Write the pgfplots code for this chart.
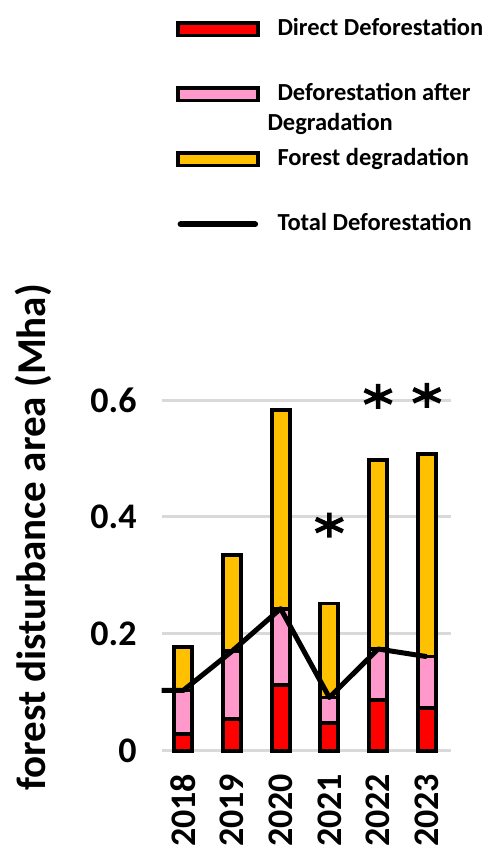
\documentclass[border=0pt]{standalone}
\usepackage{fontspec}
\setmainfont{Carlito}
\usepackage{pgfplots}
\usepackage{pgfplotstable}
\pgfplotsset{compat=1.18}

\definecolor{directred}{HTML}{FF0000}
\definecolor{afterpink}{HTML}{FF99CC}
\definecolor{degradgold}{HTML}{FFC000}
\definecolor{gridgray}{HTML}{D9D9D9}

% Forest disturbance components (Mha) per year, stacked from the bottom
\pgfplotstableread{
x  year direct afterdeg degrad
0  2018 0.028  0.075    0.075
1  2019 0.054  0.116    0.165
2  2020 0.112  0.131    0.340
3  2021 0.047  0.044    0.161
4  2022 0.087  0.087    0.323
5  2023 0.073  0.088    0.347
}\components

% Total deforestation (direct + after degradation); first point at the axis edge
\pgfplotstableread{
x     total
-0.44 0.103
0     0.103
1     0.170
2     0.243
3     0.091
4     0.174
5     0.161
}\totaldef

% Years marked as significant
\pgfplotstableread{
x y
3 0.386
4 0.606
5 0.608
}\signif

\pgfplotsset{
  common/.style={
    width=289pt, height=350.7pt, scale only axis,
    at={(0pt,0pt)}, anchor=south west,
    xmin=-0.44, xmax=5.49, ymin=0, ymax=0.6,
    clip=false,
  },
  barlegend/.style={
    legend image code/.code={\draw[##1] (0pt,-6.25pt) rectangle (79.5pt,6.25pt);}
  },
  linelegend/.style={
    legend image code/.code={\draw[##1] (2.5pt,0pt) -- (77pt,0pt);}
  },
}

\begin{document}
\begin{tikzpicture}
\useasboundingbox (-161.7pt,-100.3pt) rectangle (323.3pt,750.7pt);

\begin{axis}[
  common,
  ybar stacked,
  bar width=18pt,
  axis line style={draw=none},
  tick style={draw=none},
  ymajorgrids,
  grid style={gridgray, line width=3pt},
  xtick={0,1,2,3,4,5},
  xticklabels={2018,2019,2020,2021,2022,2023},
  ytick={0,0.2,0.4,0.6},
  yticklabels={0,0.2,0.4,0.6},
  tick label style={font=\fontsize{36pt}{40pt}\selectfont\bfseries},
  xticklabel style={rotate=90, anchor=east, inner xsep=23pt, inner ysep=0pt},
  yticklabel style={anchor=east, inner xsep=25pt, inner ysep=0pt},
  ylabel={forest disturbance area (Mha)},
  every axis y label/.style={
    at={(axis description cs:-0.4436,0.608)}, rotate=90, anchor=center,
    font=\fontsize{41pt}{45pt}\selectfont\bfseries},
  legend cell align=left,
  legend style={
    at={(0.0495,2.092)}, anchor=north west,
    draw=none, fill=none, inner sep=0pt,
    row sep=41pt, column sep=18pt,
    font=\fontsize{24.5pt}{29pt}\selectfont\bfseries,
    nodes={inner sep=0pt, text height=18pt, text depth=6pt},
  },
]
\addplot[barlegend, fill=directred, draw=black, line width=3.8pt]
  table[x=x, y=direct] {\components};
\addlegendentry{Direct Deforestation}
\addplot[barlegend, fill=afterpink, draw=black, line width=3.8pt]
  table[x=x, y=afterdeg] {\components};
\addlegendentry{\rlap{\hspace{-10pt}\raisebox{-30pt}[0pt][0pt]{Degradation}}Deforestation after}
\addplot[barlegend, fill=degradgold, draw=black, line width=3.8pt]
  table[x=x, y=degrad] {\components};
\addlegendentry{Forest degradation}
\addlegendimage{linelegend, black, line width=6pt, line cap=round}
\addlegendentry{Total Deforestation}
\end{axis}

\begin{axis}[common, hide axis]
\addplot[black, line width=5pt, line join=round]
  table[x=x, y=total] {\totaldef};
\addplot[only marks, mark=asterisk, mark size=12.5pt,
  mark options={xscale=1.25, line width=4.5pt, black}]
  table[x=x, y=y] {\signif};
\end{axis}
\end{tikzpicture}
\end{document}
